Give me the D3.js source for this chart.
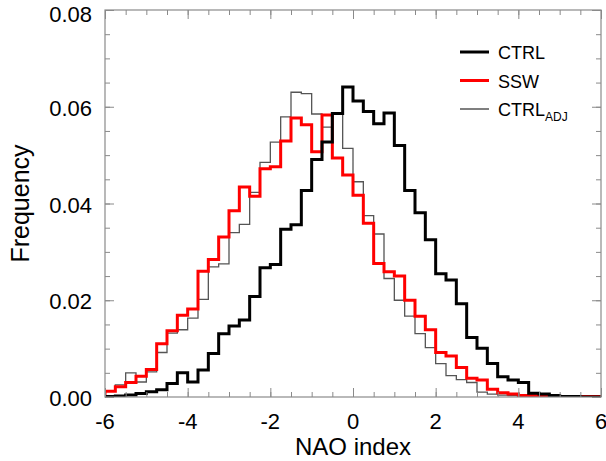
<!DOCTYPE html>
<html>
<head>
<meta charset="utf-8">
<script src="https://cdn.jsdelivr.net/npm/d3@7"></script>
<style>
  body { margin: 0; background: #fff; }
  text { font-family: "Liberation Sans", Arial, sans-serif; }
</style>
</head>
<body>
<div id="Area"></div>
<script>
// bin edges: -6 .. 6, width 0.25 (48 bins)
var binStart = -6;
var binWidth = 0.25;

var ctrl = [
  0.0001, 0.0002, 0.0004, 0.0007, 0.0011, 0.0015, 0.0028, 0.0050,
  0.0031, 0.0056, 0.0090, 0.0131, 0.0147, 0.0159, 0.0208, 0.0267,
  0.0274, 0.0347, 0.0356, 0.0427, 0.0491, 0.0527, 0.0586, 0.0641,
  0.0612, 0.0590, 0.0565, 0.0587, 0.0520, 0.0427, 0.0381, 0.0325,
  0.0255, 0.0242, 0.0193, 0.0123, 0.0101, 0.0069, 0.0042, 0.0035,
  0.0030, 0.0008, 0.0006, 0.0003, 0.0001, 0.0001, 0.0000, 0.0000
];

var ssw = [
  0.0012, 0.0021, 0.0030, 0.0043, 0.0057, 0.0110, 0.0137, 0.0169,
  0.0182, 0.0260, 0.0284, 0.0331, 0.0385, 0.0434, 0.0415, 0.0472,
  0.0476, 0.0529, 0.0577, 0.0563, 0.0507, 0.0583, 0.0494, 0.0459,
  0.0417, 0.0359, 0.0276, 0.0259, 0.0250, 0.0200, 0.0167, 0.0139,
  0.0092, 0.0085, 0.0061, 0.0039, 0.0035, 0.0016, 0.0009, 0.0006,
  0.0003, 0.0003, 0.0001, 0.0001, 0.0001, 0.0001, 0.0001, 0.0001
];

var ctrlAdj = [
  0.0013, 0.0025, 0.0050, 0.0031, 0.0052, 0.0092, 0.0132, 0.0139,
  0.0163, 0.0202, 0.0269, 0.0275, 0.0340, 0.0357, 0.0423, 0.0485,
  0.0527, 0.0579, 0.0630, 0.0627, 0.0585, 0.0558, 0.0586, 0.0514,
  0.0445, 0.0375, 0.0337, 0.0245, 0.0200, 0.0167, 0.0131, 0.0102,
  0.0069, 0.0044, 0.0036, 0.0030, 0.0010, 0.0006, 0.0004, 0.0003,
  0.0002, 0.0001, 0.0001, 0.0001, 0.0000, 0.0000, 0.0000, 0.0000
];

var xTicks = [-6, -4, -2, 0, 2, 4, 6];
var yTicks = [0, 0.02, 0.04, 0.06, 0.08];

var series = [
  {name: "CTRL_ADJ", values: ctrlAdj, color: "#555555", width: 1.3},
  {name: "SSW", values: ssw, color: "#ff0000", width: 3},
  {name: "CTRL", values: ctrl, color: "#000000", width: 3}
];

var width = 606, height = 461;
var margin = {top: 10, right: 5, bottom: 64, left: 105};
var w = width - margin.left - margin.right;
var h = height - margin.top - margin.bottom;

var svg = d3.select("#Area").append("svg")
  .attr("width", width)
  .attr("height", height);

var g = svg.append("g")
  .attr("transform", "translate(" + margin.left + "," + margin.top + ")");

var x = d3.scaleLinear().domain([-6, 6]).range([0, w]);
var y = d3.scaleLinear().domain([0, 0.08]).range([h, 0]);

g.append("defs").append("clipPath")
  .attr("id", "clip")
  .append("rect")
  .attr("width", w)
  .attr("height", h);

// histogram steps
var line = d3.line()
  .x(function(d) { return x(d[0]); })
  .y(function(d) { return y(d[1]); })
  .curve(d3.curveStepAfter);

function stepPoints(vals) {
  var pts = [[binStart, 0]];
  vals.forEach(function(v, i) { pts.push([binStart + i * binWidth, v]); });
  var end = binStart + vals.length * binWidth;
  pts.push([end, vals[vals.length - 1]]);
  pts.push([end, 0]);
  return pts;
}

var plot = g.append("g").attr("clip-path", "url(#clip)");
series.forEach(function(s) {
  plot.append("path")
    .datum(stepPoints(s.values))
    .attr("fill", "none")
    .attr("stroke", s.color)
    .attr("stroke-width", s.width)
    .attr("stroke-linejoin", "miter")
    .attr("d", line);
});

// frame with inward ticks on all sides
var axisColor = "#8a8a8a";
var xMinor = d3.range(-6, 6.001, 0.5);
var yMinor = d3.range(0, 0.0801, 0.005);

function styleAxis(sel) {
  sel.select(".domain").remove();
  sel.selectAll(".tick line").attr("stroke", axisColor);
}

g.append("g").attr("transform", "translate(0," + h + ")")
  .call(d3.axisTop(x).tickValues(xMinor).tickSize(5).tickFormat(""))
  .call(styleAxis);
g.append("g").attr("transform", "translate(0," + h + ")")
  .call(d3.axisTop(x).tickValues(xTicks).tickSize(9).tickFormat(""))
  .call(styleAxis);
g.append("g")
  .call(d3.axisBottom(x).tickValues(xMinor).tickSize(5).tickFormat(""))
  .call(styleAxis);
g.append("g")
  .call(d3.axisBottom(x).tickValues(xTicks).tickSize(9).tickFormat(""))
  .call(styleAxis);
g.append("g")
  .call(d3.axisRight(y).tickValues(yMinor).tickSize(5).tickFormat(""))
  .call(styleAxis);
g.append("g")
  .call(d3.axisRight(y).tickValues(yTicks).tickSize(9).tickFormat(""))
  .call(styleAxis);
g.append("g").attr("transform", "translate(" + w + ",0)")
  .call(d3.axisLeft(y).tickValues(yMinor).tickSize(5).tickFormat(""))
  .call(styleAxis);
g.append("g").attr("transform", "translate(" + w + ",0)")
  .call(d3.axisLeft(y).tickValues(yTicks).tickSize(9).tickFormat(""))
  .call(styleAxis);

g.append("rect")
  .attr("width", w).attr("height", h)
  .attr("fill", "none")
  .attr("stroke", axisColor)
  .attr("stroke-width", 1.2);

// tick labels
g.selectAll(".xlab").data(xTicks).enter().append("text")
  .attr("x", function(d) { return x(d); })
  .attr("y", h + 32)
  .attr("text-anchor", "middle")
  .attr("font-size", 22)
  .text(function(d) { return d; });

g.selectAll(".ylab").data(yTicks).enter().append("text")
  .attr("x", -13)
  .attr("y", function(d) { return y(d) + (d === 0.08 ? 12 : 9); })
  .attr("text-anchor", "end")
  .attr("font-size", 22)
  .text(function(d) { return d3.format(".2f")(d); });

// axis titles
svg.append("text")
  .attr("x", margin.left + x(0))
  .attr("y", 455)
  .attr("text-anchor", "middle")
  .attr("font-size", 24)
  .text("NAO index");

svg.append("text")
  .attr("transform", "translate(29," + (margin.top + h / 2) + ") rotate(-90)")
  .attr("text-anchor", "middle")
  .attr("font-size", 25)
  .text("Frequency");

// legend
var legend = [
  {label: "CTRL", sub: "", color: "#000000", width: 3},
  {label: "SSW", sub: "", color: "#ff0000", width: 3},
  {label: "CTRL", sub: "ADJ", color: "#555555", width: 1.5}
];
var lg = svg.append("g").attr("transform", "translate(460,52)");
legend.forEach(function(d, i) {
  var row = lg.append("g").attr("transform", "translate(0," + (i * 28.5) + ")");
  row.append("line")
    .attr("x1", 0).attr("x2", 29)
    .attr("y1", 0).attr("y2", 0)
    .attr("stroke", d.color)
    .attr("stroke-width", d.width);
  var t = row.append("text")
    .attr("x", 38).attr("y", 7)
    .attr("font-size", 18)
    .text(d.label);
  if (d.sub) {
    t.append("tspan")
      .attr("font-size", 12)
      .attr("dy", 5)
      .text(d.sub);
  }
});
</script>
</body>
</html>
